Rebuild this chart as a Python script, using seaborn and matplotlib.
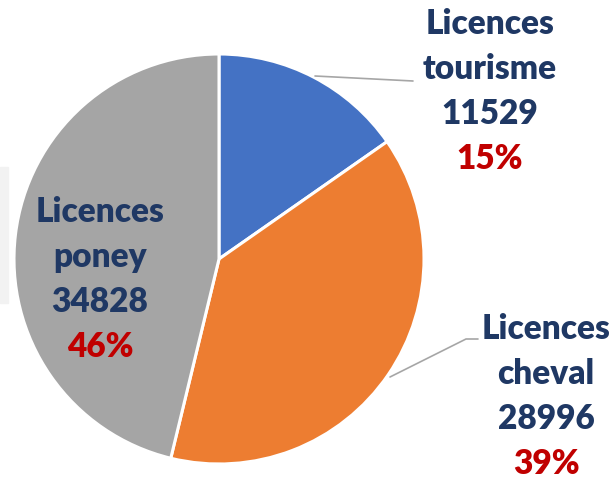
import matplotlib
matplotlib.use("Agg")
import matplotlib.pyplot as plt
import seaborn as sns
from matplotlib.patches import Rectangle

categories = ["tourisme", "cheval", "poney"]
licences = [11529, 28996, 34828]
percents = ["15%", "39%", "46%"]
colors = ["#4472C4", "#ED7D31", "#A5A5A5"]

sns.set_theme(style="white")
plt.rcParams["font.family"] = ["Lato", "DejaVu Sans"]

W, H = 615, 479
fig = plt.figure(figsize=(W / 100, H / 100), dpi=100)

# pie centre and radius in pixels
cx, cy, r = 219, 259, 205
ax = fig.add_axes([(cx - r) / W, (H - cy - r) / H, 2 * r / W, 2 * r / H])
ax.pie(licences, colors=colors, startangle=90, counterclock=False,
       wedgeprops=dict(edgecolor="white", linewidth=2.2))
ax.set_xlim(-1, 1)
ax.set_ylim(-1, 1)
ax.set_aspect("auto")
ax.axis("off")

def px(x, y):
    return (x - cx) / r, (cy - y) / r

# faint box on the left edge
fig.patches.append(Rectangle((0, 1 - 303 / H), 8 / W, 136 / H,
                             transform=fig.transFigure, color="#f2f2f2", zorder=0))

# label blocks: centre x, first baseline y
label_pos = {"tourisme": (490, 34), "cheval": (546, 339), "poney": (100, 222)}
step = 45
navy = "#1F3864"
red = "#C00000"
for cat, val, pct in zip(categories, licences, percents):
    x0, y0 = label_pos[cat]
    lines = [("Licences", navy), (cat, navy), (str(val), navy), (pct, red)]
    for i, (txt, col) in enumerate(lines):
        tx, ty = px(x0, y0 + i * step)
        ax.text(tx, ty, txt, ha="center", va="baseline", fontsize=24,
                fontweight="heavy", color=col, clip_on=False)

# leader lines
lx, ly = zip(px(315, 76), px(413, 81))
ax.plot(lx, ly, color="#A6A6A6", lw=1.2, clip_on=False)
lx, ly = zip(px(390, 377), px(466, 339), px(478, 339))
ax.plot(lx, ly, color="#A6A6A6", lw=1.2, clip_on=False)

fig.savefig("out.png", dpi=100)
